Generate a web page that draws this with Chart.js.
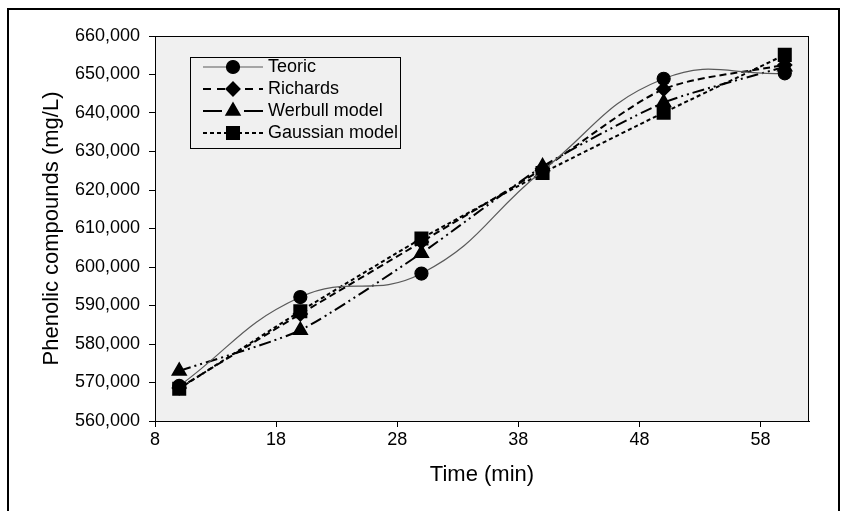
<!DOCTYPE html>
<html>
<head>
<meta charset="utf-8">
<script src="https://cdn.jsdelivr.net/npm/chart.js@4.4.1/dist/chart.umd.min.js"></script>
<style>
  html, body { margin: 0; padding: 0; background: #fff; }
  #wrap { position: relative; width: 846px; height: 511px; overflow: hidden; }
  #frame { position: absolute; left: 7px; top: 8px; width: 833px; height: 530px;
           border: 2px solid #000; box-sizing: border-box; pointer-events: none; }
</style>
</head>
<body>
<div id="wrap">
  <canvas id="chart" width="846" height="511"></canvas>
  <div id="frame"></div>
</div>
<script>
// sampling times (min) and phenolic compounds (mg/L)
var times    = [10, 20, 30, 40, 50, 60];
var teoric   = [569100, 592200, 598300, 625000, 648900, 650300];
var richards = [568600, 587800, 606500, 625500, 646200, 652500];
var werbull  = [573000, 583600, 603600, 626100, 642700, 652000];
var gaussian = [568400, 588500, 607400, 624400, 640100, 655100];
var xTicks   = [8, 18, 28, 38, 48, 58];

var FONT = "'Liberation Sans', Arial, sans-serif";

function pairs(vals) {
  return vals.map(function (v, i) { return { x: times[i], y: v }; });
}

// grey plot background + box around it
var plotBox = {
  id: 'plotBox',
  beforeDatasetsDraw: function (chart) {
    var a = chart.chartArea, ctx = chart.ctx;
    ctx.save();
    ctx.fillStyle = '#f0f0f0';
    ctx.fillRect(a.left, a.top, a.right - a.left, a.bottom - a.top);
    ctx.restore();
  },
  afterDatasetsDraw: function (chart) {
    var a = chart.chartArea, ctx = chart.ctx;
    ctx.save();
    ctx.strokeStyle = '#000';
    ctx.lineWidth = 1;
    ctx.strokeRect(a.left + 0.5, a.top + 0.5, a.right - a.left - 1, a.bottom - a.top);
    ctx.restore();
  }
};

// legend box inside the plot, line sample with marker in the middle
var boxLegend = {
  id: 'boxLegend',
  afterDraw: function (chart, args, opts) {
    var ctx = chart.ctx;
    ctx.save();
    ctx.fillStyle = '#f0f0f0';
    ctx.fillRect(opts.x, opts.y, opts.w, opts.h);
    ctx.strokeStyle = '#000';
    ctx.lineWidth = 1;
    ctx.strokeRect(opts.x + 0.5, opts.y + 0.5, opts.w, opts.h);
    chart.data.datasets.forEach(function (ds, i) {
      var y = opts.y + opts.first + i * opts.step;
      var x0 = opts.x + 13, x1 = opts.x + 73, xm = (x0 + x1) / 2;
      ctx.beginPath();
      ctx.setLineDash(ds.legendDash || []);
      ctx.strokeStyle = ds.borderColor;
      ctx.lineWidth = ds.borderWidth;
      ctx.moveTo(x0, y);
      ctx.lineTo(x1, y);
      ctx.stroke();
      ctx.setLineDash([]);
      ctx.fillStyle = '#000';
      ctx.strokeStyle = '#000';
      Chart.helpers.drawPoint(ctx, {
        pointStyle: ds.pointStyle, radius: ds.pointRadius, rotation: 0, borderWidth: 1
      }, xm, y);
      ctx.fillStyle = '#000';
      ctx.font = '18px ' + FONT;
      ctx.textBaseline = 'middle';
      ctx.textAlign = 'left';
      ctx.fillText(ds.label, opts.x + 78, y);
    });
    ctx.restore();
  }
};

new Chart(document.getElementById('chart'), {
  type: 'line',
  data: {
    datasets: [
      {
        label: 'Teoric', data: pairs(teoric),
        borderColor: '#5a5a5a', borderWidth: 1.2, tension: 0.45,
        pointStyle: 'circle', pointRadius: 6.5,
        pointBackgroundColor: '#000', pointBorderColor: '#000', legendDash: []
      },
      {
        label: 'Richards', data: pairs(richards),
        borderColor: '#000', borderWidth: 2, borderDash: [7, 4], tension: 0.25,
        pointStyle: 'rectRot', pointRadius: 6.5,
        pointBackgroundColor: '#000', pointBorderColor: '#000', legendDash: [8, 6]
      },
      {
        label: 'Werbull model', data: pairs(werbull),
        borderColor: '#000', borderWidth: 2, borderDash: [12, 4, 2, 4, 2, 4], tension: 0.2,
        pointStyle: 'triangle', pointRadius: 7.5,
        pointBackgroundColor: '#000', pointBorderColor: '#000', legendDash: [19, 22]
      },
      {
        label: 'Gaussian model', data: pairs(gaussian),
        borderColor: '#000', borderWidth: 2, borderDash: [4, 3], tension: 0.15,
        pointStyle: 'rect', pointRadius: 8.5,
        pointBackgroundColor: '#000', pointBorderColor: '#000', legendDash: [4, 3]
      }
    ]
  },
  options: {
    responsive: false,
    devicePixelRatio: 1,
    animation: false,
    layout: { padding: { top: 36, right: 37, left: 0, bottom: 0 } },
    plugins: {
      legend: { display: false },
      tooltip: { enabled: false },
      boxLegend: { x: 190, y: 57, w: 210, h: 91, first: 10, step: 22 }
    },
    scales: {
      x: {
        type: 'linear', min: 8, max: 62,
        afterBuildTicks: function (s) { s.ticks = xTicks.map(function (v) { return { value: v }; }); },
        afterFit: function (s) { s.height = 90; },
        grid: { drawOnChartArea: false, drawTicks: true, tickLength: 6, color: '#000' },
        border: { display: true, color: '#000' },
        ticks: { color: '#000', padding: 2, maxRotation: 0, font: { family: FONT, size: 18 } },
        title: { display: true, text: 'Time (min)', color: '#000',
                 padding: { top: 0, bottom: 23 }, font: { family: FONT, size: 22 } }
      },
      y: {
        min: 560000, max: 660000,
        afterFit: function (s) { s.width = 155; },
        grid: { drawOnChartArea: false, drawTicks: true, tickLength: 6, color: '#000' },
        border: { display: true, color: '#000' },
        ticks: { color: '#000', padding: 9, stepSize: 10000, font: { family: FONT, size: 18 },
                 callback: function (v) { return v.toLocaleString('en-US'); } },
        title: { display: true, text: 'Phenolic compounds (mg/L)', color: '#000',
                 padding: { top: 39, bottom: 0 }, font: { family: FONT, size: 22 } }
      }
    }
  },
  plugins: [plotBox, boxLegend]
});
</script>
</body>
</html>
